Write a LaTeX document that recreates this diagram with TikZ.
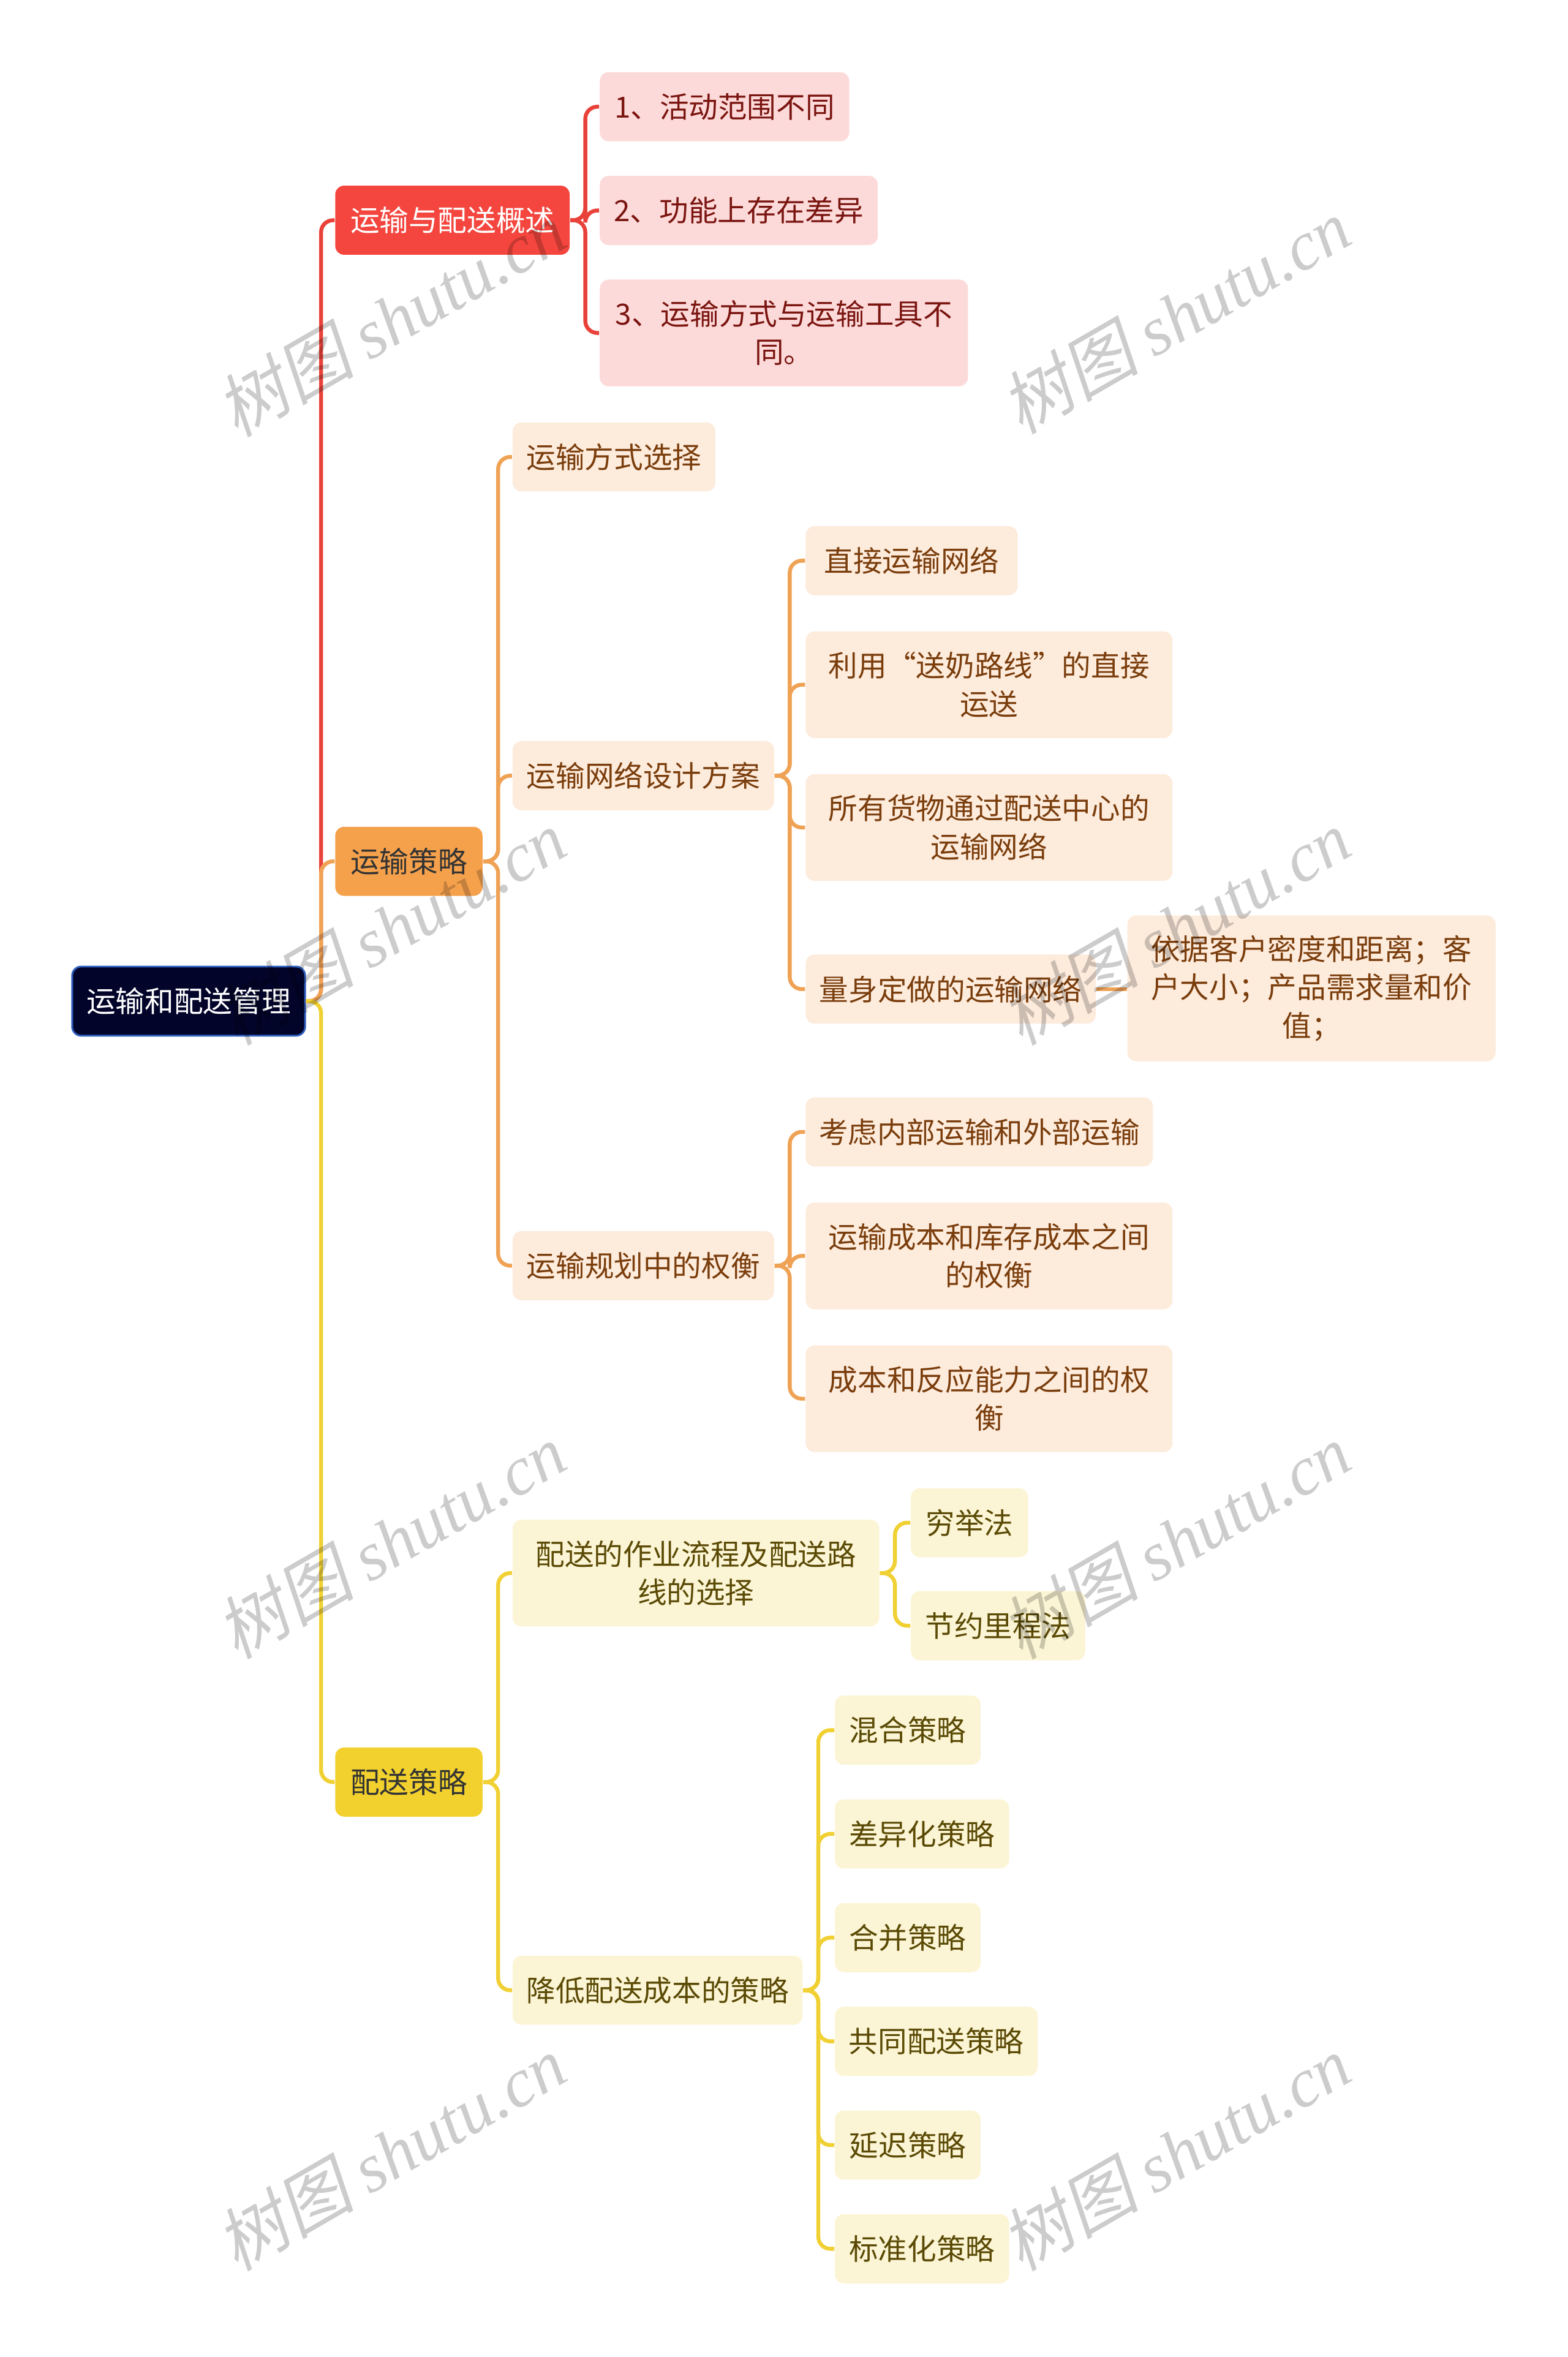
\documentclass[tikz,border=0pt]{standalone}
\usepackage{fontspec}
\setmainfont{Noto Sans CJK SC}
\newfontfamily\wmcjk[FakeSlant=0.2]{Noto Sans CJK SC}
\newfontfamily\wmlat{Liberation Serif}
\usepackage{tikz}

\definecolor{rootfill}{HTML}{02042A}
\definecolor{rootline}{HTML}{3060C0}
\definecolor{redmain}{HTML}{F4463E}
\definecolor{redline}{HTML}{E9423A}
\definecolor{redleaf}{HTML}{FDDADA}
\definecolor{redtext}{HTML}{7A1510}
\definecolor{orgmain}{HTML}{F5A14C}
\definecolor{orgline}{HTML}{F0A254}
\definecolor{orgleaf}{HTML}{FDEBDC}
\definecolor{orgtext}{HTML}{7A3D0C}
\definecolor{yelmain}{HTML}{F2D12E}
\definecolor{yelline}{HTML}{F0D032}
\definecolor{yelleaf}{HTML}{FCF5D5}
\definecolor{yeltext}{HTML}{5A4A05}

\tikzset{
  box/.style={rounded corners=3pt, inner sep=0pt, minimum height=23pt,
    align=center, font=\fontsize{9.7pt}{12.7pt}\selectfont},
  rootbox/.style={box, fill=rootfill, draw=rootline, line width=0.6pt, text=white},
  redbox/.style={box, fill=redmain, text=white},
  orgbox/.style={box, fill=orgmain, text=black!80},
  yelbox/.style={box, fill=yelmain, text=black!80},
  redsub/.style={box, fill=redleaf, text=redtext},
  orgsub/.style={box, fill=orgleaf, text=orgtext},
  yelsub/.style={box, fill=yelleaf, text=yeltext},
  link/.style={line width=1.3pt, rounded corners=4pt},
  wm/.style={rotate=30, text=black, opacity=0.2}
}

\begin{document}
\begin{tikzpicture}[x=0.5pt, y=-0.5pt]
    \useasboundingbox (0,0) rectangle (1043,1568);

    % root and main branches
    \node[rootbox, minimum width=77.5pt] (root) at (125.5,666) {运输和配送管理};
    \node[redbox, minimum width=78pt] (ovw) at (301,146.5) {运输与配送概述};
    \node[orgbox, minimum width=49pt] (trans) at (272,573) {运输策略};
    \node[yelbox, minimum width=49pt] (dist) at (272,1185.5) {配送策略};

    % overview
    \node[redsub, minimum width=83pt] (ovw1) at (482,71) {1、活动范围不同};
    \node[redsub, minimum width=92.5pt] (ovw2) at (491.5,140) {2、功能上存在差异};
    \node[redsub, minimum width=122.5pt, minimum height=35.5pt] (ovw3) at (521.5,221.5) {3、运输方式与运输工具不\\同。};

    % transport strategy
    \node[orgsub, minimum width=67.5pt] (mode) at (408.5,304) {运输方式选择};
    \node[orgsub, minimum width=87pt] (net) at (428,516) {运输网络设计方案};
    \node[orgsub, minimum width=87pt] (trade) at (428,842) {运输规划中的权衡};

    \node[orgsub, minimum width=70.5pt] (net1) at (606.5,373) {直接运输网络};
    \node[orgsub, minimum width=122pt, minimum height=35.5pt] (net2) at (658,455.5) {利用“送奶路线”的直接\\运送};
    \node[orgsub, minimum width=122pt, minimum height=35.5pt] (net3) at (658,550.5) {所有货物通过配送中心的\\运输网络};
    \node[orgsub, minimum width=96.5pt] (net4) at (632.5,658) {量身定做的运输网络};
    \node[orgsub, minimum width=122.5pt, minimum height=48.5pt] (basis) at (872.5,657.5) {依据客户密度和距离；客\\户大小；产品需求量和价\\值；};

    \node[orgsub, minimum width=115.5pt] (trade1) at (651.5,753) {考虑内部运输和外部运输};
    \node[orgsub, minimum width=122pt, minimum height=35.5pt] (trade2) at (658,835.5) {运输成本和库存成本之间\\的权衡};
    \node[orgsub, minimum width=122pt, minimum height=35.5pt] (trade3) at (658,930.5) {成本和反应能力之间的权\\衡};

    % distribution strategy
    \node[yelsub, minimum width=122pt, minimum height=35.5pt] (route) at (463,1046.5) {配送的作业流程及配送路\\线的选择};
    \node[yelsub, minimum width=39pt] (route1) at (645,1013) {穷举法};
    \node[yelsub, minimum width=58pt] (route2) at (664,1081.5) {节约里程法};
    \node[yelsub, minimum width=96.5pt] (cost) at (437.5,1324) {降低配送成本的策略};
    \foreach \i/\w/\y/\txt in {1/97/1151/混合策略, 2/116/1220/差异化策略, 3/97/1289/合并策略,
        4/135/1358/共同配送策略, 5/97/1427/延迟策略, 6/116/1496/标准化策略}
    {
        \node[yelsub, minimum width=\w*0.5pt, anchor=west] (cost\i) at (555,\y) {\txt};
    }

    % connectors
    \draw[link, redline] (root.east) -- ++(10,0) |- (ovw.west);
    \draw[link, orgline] (root.east) -- ++(10,0) |- (trans.west);
    \draw[link, yelline] (root.east) -- ++(10,0) |- (dist.west);
    \foreach \c in {ovw1,ovw2,ovw3}
        \draw[link, redline] (ovw.east) -- ++(10,0) |- (\c.west);
    \foreach \c in {mode,net,trade}
        \draw[link, orgline] (trans.east) -- ++(10,0) |- (\c.west);
    \foreach \c in {net1,net2,net3,net4}
        \draw[link, orgline] (net.east) -- ++(10,0) |- (\c.west);
    \draw[link, orgline] (net4.east) -- (basis.west |- net4.east);
    \foreach \c in {trade1,trade2,trade3}
        \draw[link, orgline] (trade.east) -- ++(10,0) |- (\c.west);
    \foreach \c in {route,cost}
        \draw[link, yelline] (dist.east) -- ++(10,0) |- (\c.west);
    \foreach \c in {route1,route2}
        \draw[link, yelline] (route.east) -- ++(10,0) |- (\c.west);
    \foreach \i in {1,...,6}
        \draw[link, yelline] (cost.east) -- ++(10,0) |- (cost\i.west);

    % watermark
    \foreach \x/\y in {260/212, 782/210, 260/617, 782/617, 260/1025, 782/1025, 260/1432, 782/1432}
    {
        \node[wm] at (\x,\y) {\fontsize{23pt}{23pt}\wmcjk 树图 \wmlat\itshape shutu.cn};
    }
\end{tikzpicture}
\end{document}
